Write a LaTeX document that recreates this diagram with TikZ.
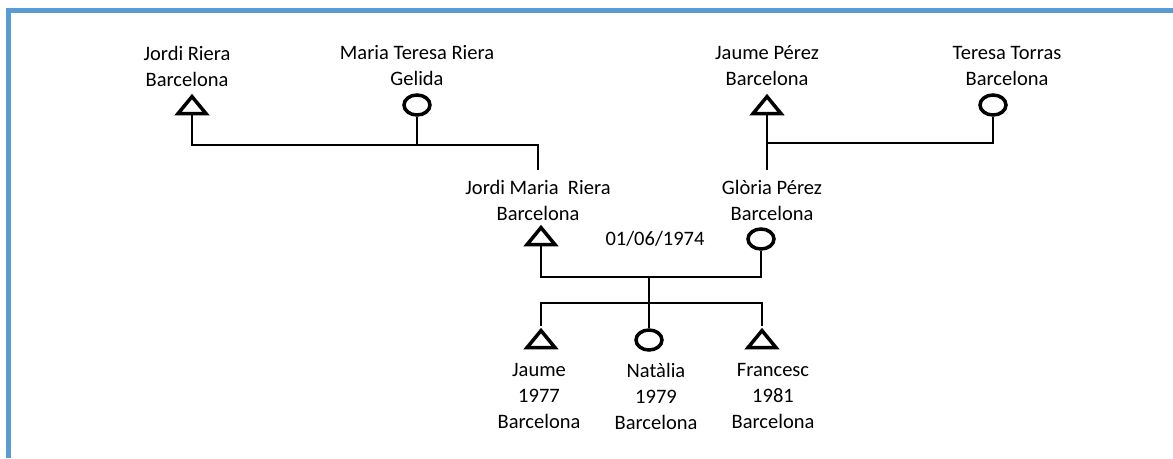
\documentclass[tikz,border=0pt]{standalone}
\usepackage{fontspec}
\setmainfont{Carlito}
\usetikzlibrary{shapes.geometric}
\definecolor{frameblue}{RGB}{91,155,213}

\begin{document}
\begin{tikzpicture}[x=1pt, y=-1pt]
		\tikzstyle{male} = [isosceles triangle, isosceles triangle stretches, shape border rotate=90, draw, line width=3.5pt, inner sep=0pt, minimum width=28pt, minimum height=17pt]
		\tikzstyle{female} = [ellipse, draw, line width=3.5pt, inner sep=0pt, minimum width=26pt, minimum height=20pt]
		\tikzstyle{person} = [align=center, inner sep=0pt, font=\fontsize{20.5}{26}\selectfont]
		\tikzstyle{link} = [line width=2pt]
		\useasboundingbox (0,0) rectangle (1173,458);

		% frame
		\draw[frameblue, line width=5pt] (8.5,458) -- (8.5,10.5) -- (1173,10.5);

		% grandparents
		\node[male] (jordiR) at (192,107) {};
		\node[female] (mariaT) at (417,105) {};
		\node[male] (jaumeP) at (767,107) {};
		\node[female] (teresaT) at (993,105) {};

		% parents
		\node[male] (jordiM) at (541,238) {};
		\node[female] (gloria) at (761,239) {};

		% children
		\node[male] (jaume) at (541,341) {};
		\node[female] (natalia) at (649,340) {};
		\node[male] (francesc) at (762,341) {};

		% names
		\node[person] (name-jordiR) at (187,66) {Jordi Riera\\Barcelona};
		\node[person] (name-mariaT) at (417,66) {Maria Teresa Riera\\Gelida};
		\node[person] (name-jaumeP) at (767,66) {Jaume Pérez\\Barcelona};
		\node[person] (name-teresaT) at (1007,66) {Teresa Torras\\Barcelona};
		\node[person] (name-jordiM) at (538,200) {Jordi Maria~~Riera\\Barcelona};
		\node[person] (name-gloria) at (772,200) {Glòria Pérez\\Barcelona};
		\node[person] (wedding) at (655,239) {01/06/1974};
		\node[person] (name-jaume) at (539,396) {Jaume\\1977\\Barcelona};
		\node[person] (name-natalia) at (656,396) {Natàlia\\1979\\Barcelona};
		\node[person] (name-francesc) at (773,396) {Francesc\\1981\\Barcelona};

		% junctions
		\coordinate (left-couple) at (538,145);
		\coordinate (left-end) at (538,170);
		\coordinate (right-couple) at (767,143);
		\coordinate (right-end) at (767,170);
		\coordinate (marriage) at (649,277);
		\coordinate (siblings) at (649,303);

		% grandparents connections
		\draw[link] (jordiR.south) |- (left-couple) -- (left-end);
		\draw[link] (mariaT.south) -- (mariaT.south |- left-couple);
		\draw[link] (jaumeP.south) -- (right-end);
		\draw[link] (teresaT.south) |- (right-couple);

		% parents-children connections
		\draw[link] (jordiM.south) |- (marriage) -| (gloria.south);
		\draw[link] (marriage) -- (natalia.north);
		\draw[link] (jaume.north) |- (siblings) -| (francesc.north);
	\end{tikzpicture}
\end{document}
